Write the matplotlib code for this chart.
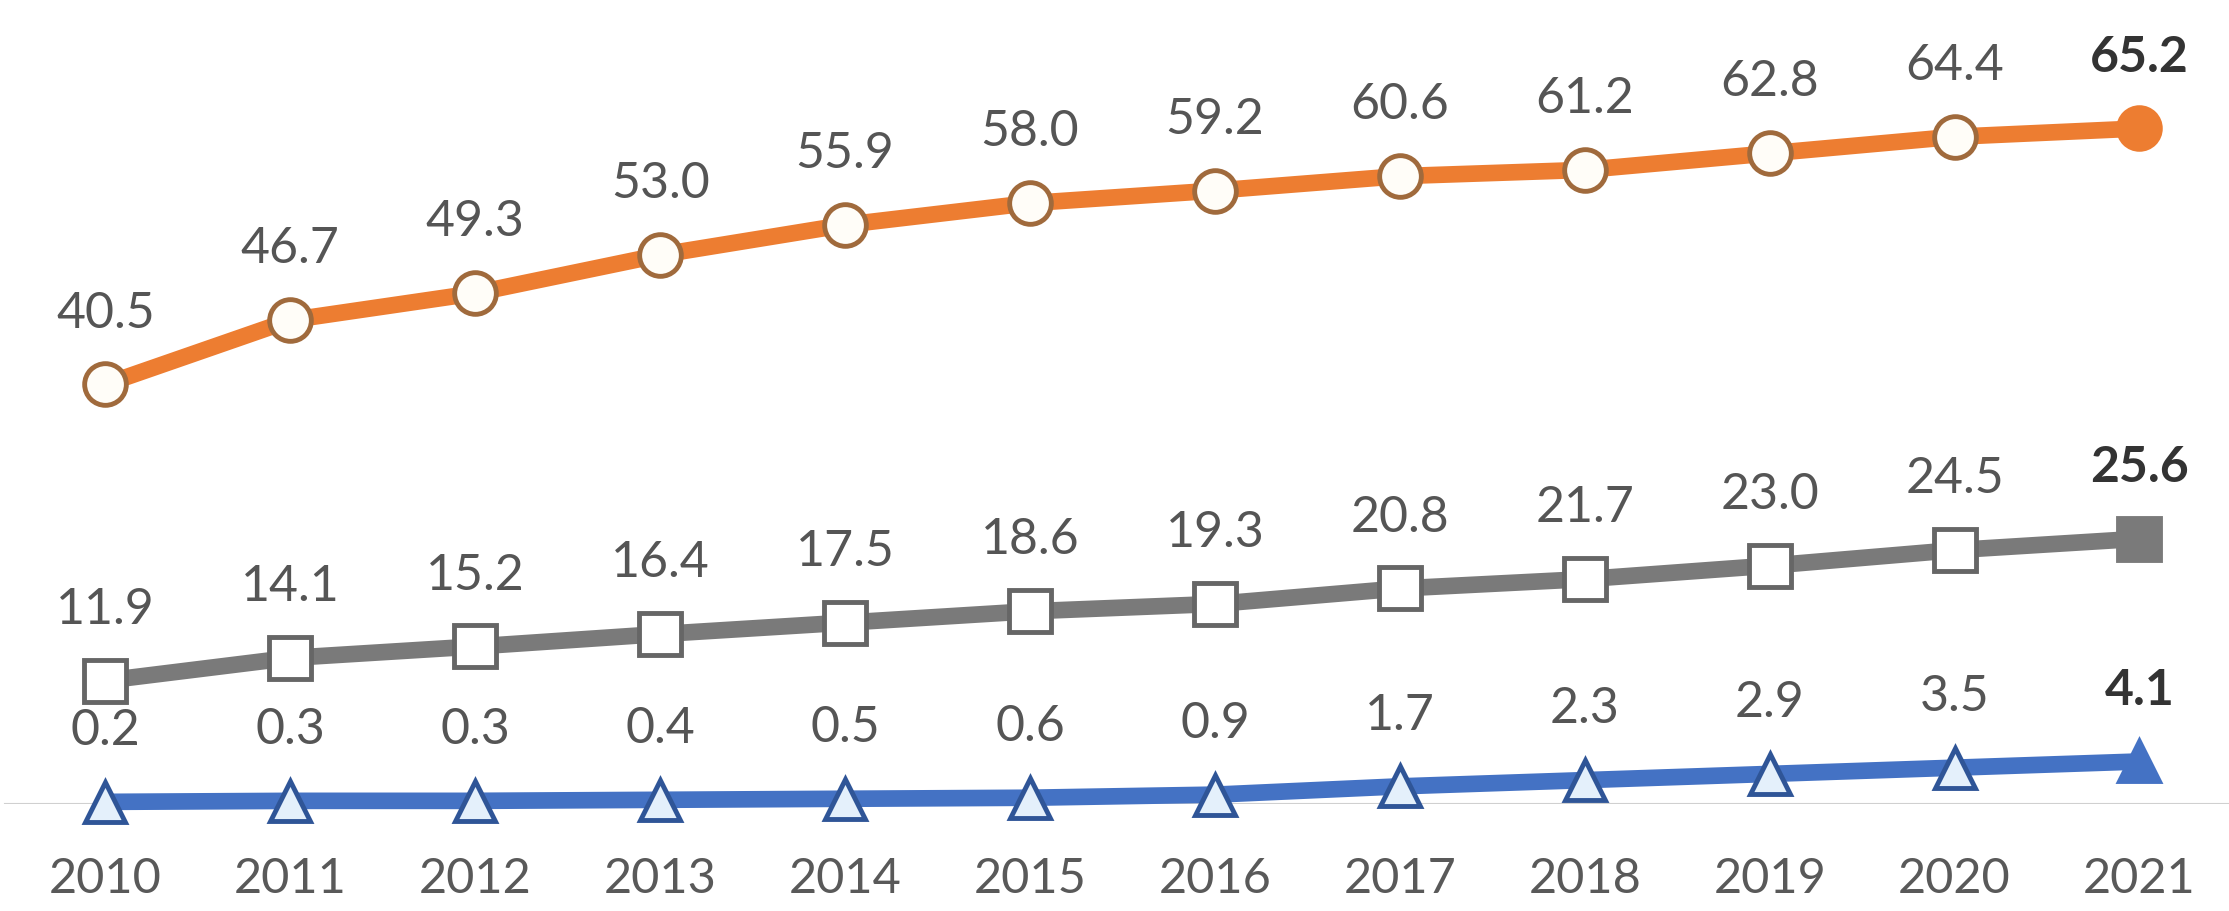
import matplotlib
matplotlib.use("Agg")
import matplotlib.pyplot as plt

years = [2010, 2011, 2012, 2013, 2014, 2015, 2016, 2017, 2018, 2019, 2020, 2021]
orange_vals = [40.5, 46.7, 49.3, 53.0, 55.9, 58.0, 59.2, 60.6, 61.2, 62.8, 64.4, 65.2]
gray_vals = [11.9, 14.1, 15.2, 16.4, 17.5, 18.6, 19.3, 20.8, 21.7, 23.0, 24.5, 25.6]
blue_vals = [0.2, 0.3, 0.3, 0.4, 0.5, 0.6, 0.9, 1.7, 2.3, 2.9, 3.5, 4.1]

plt.rcParams['font.family'] = ['Lato', 'DejaVu Sans']

fig = plt.figure(figsize=(22.29, 9.11), dpi=100)
ax = fig.add_axes([0, 0.1175, 1, 0.8825])
ax.set_xlim(2009.43, 2021.484)
ax.set_ylim(0, 77.6)
for s in ax.spines.values():
    s.set_visible(False)
ax.set_yticks([])

# thin baseline at zero
ax.axhline(0, xmin=5 / 2229, xmax=1, color='#d0d0d0', lw=1.5, zorder=1)

series = [
    (orange_vals, '#ED7D31', 'o', '#A06A3C', '#FFFDF8', 30),
    (gray_vals, '#7A7A7A', 's', '#666666', '#FFFFFF', 30),
    (blue_vals, '#4472C4', '^', '#2F5597', '#E4F0FB', 29),
]

for vals, color, marker, edge, face, ms in series:
    ax.plot(years, vals, color=color, lw=12, solid_capstyle='butt', zorder=3, clip_on=False)
    ax.plot(years[:-1], vals[:-1], ls='none', marker=marker, ms=ms, mfc=face,
            mec=edge, mew=3.5, zorder=4, clip_on=False)
    ax.plot(years[-1:], vals[-1:], ls='none', marker=marker, ms=ms, mfc=color,
            mec=color, mew=3.5, zorder=4, clip_on=False)
    for i, (x, v) in enumerate(zip(years, vals)):
        last = i == len(years) - 1
        ax.annotate(f"{v:.1f}", (x, v), xytext=(0, 51), textcoords='offset points',
                    ha='center', va='center', fontsize=36,
                    fontweight='bold' if last else 'normal',
                    color='#333333' if last else '#555555', zorder=5)

ax.set_xticks(years)
ax.set_xticklabels([str(y) for y in years])
ax.tick_params(axis='x', length=0, pad=38, labelsize=35, labelcolor='#595959')

fig.savefig('out.png', dpi=100, facecolor='white')
